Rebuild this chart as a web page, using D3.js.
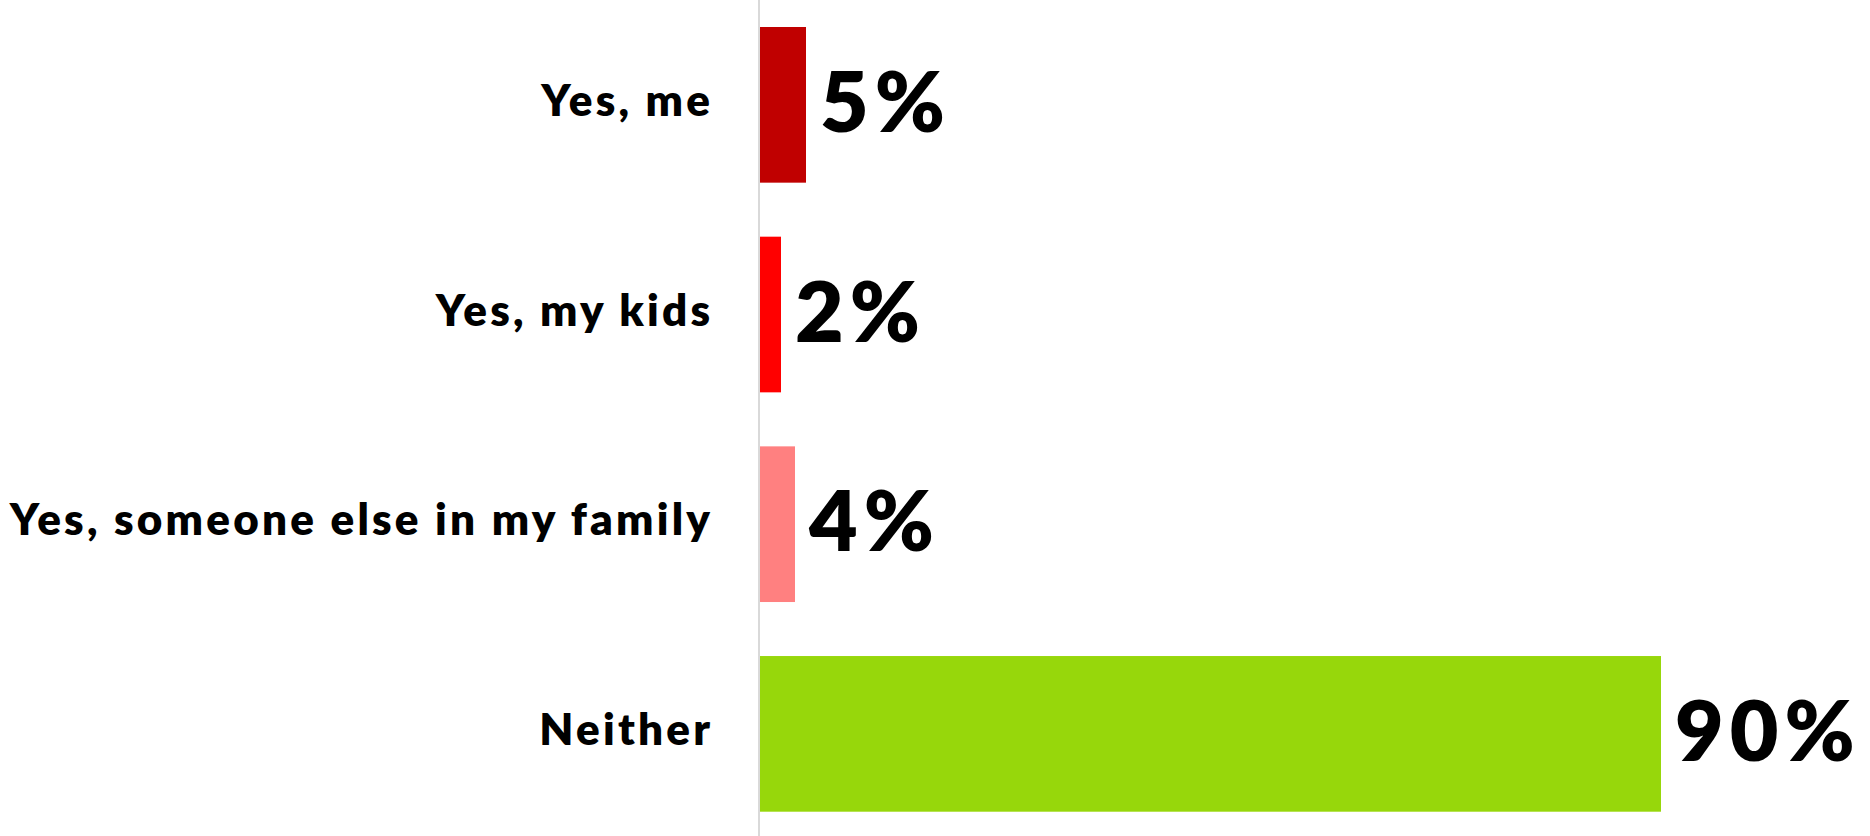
<!DOCTYPE html>
<html>
<head>
<meta charset="utf-8">
<script src="https://cdn.jsdelivr.net/npm/d3@7"></script>
<style>
  html, body { margin: 0; padding: 0; background: #ffffff; }
  svg { display: block; }
</style>
</head>
<body>
<svg id="chart" width="1870" height="836"></svg>
<script>
const categories = ["Yes, me", "Yes, my kids", "Yes, someone else in my family", "Neither"];
const values = [4.6, 2.1, 3.5, 90.1];
const valueLabels = ["5%", "2%", "4%", "90%"];
const barColors = ["#C00000", "#FF0000", "#FF8080", "#97D70B"];

const W = 1870, H = 836;
const svg = d3.select("#chart");
const fontFamily = "Lato, 'Open Sans', sans-serif";

const x = d3.scaleLinear().domain([0, 100]).range([760, 1760]);
const y = d3.scaleBand().domain(categories).range([27, 811.7]).paddingInner(0.2576).paddingOuter(0);

// axis line
svg.append("line")
  .attr("x1", x(0) - 1).attr("x2", x(0) - 1)
  .attr("y1", 0).attr("y2", H)
  .attr("stroke", "#d9d9d9").attr("stroke-width", 2);

// bars
svg.selectAll("rect.bar")
  .data(categories)
  .join("rect")
  .attr("class", "bar")
  .attr("x", x(0))
  .attr("y", d => y(d))
  .attr("width", (d, i) => x(values[i]) - x(0))
  .attr("height", y.bandwidth())
  .attr("fill", (d, i) => barColors[i]);

// category labels
const catSpacing = 3.2;
svg.selectAll("text.cat")
  .data(categories)
  .join("text")
  .attr("class", "cat")
  .attr("x", x(0) - 50 + catSpacing)
  .attr("y", d => y(d) + y.bandwidth() / 2 + 11)
  .attr("text-anchor", "end")
  .attr("font-family", fontFamily)
  .attr("font-weight", 800)
  .attr("font-size", 44)
  .attr("letter-spacing", catSpacing)
  .attr("fill", "#000")
  .text(d => d);

// value labels
svg.selectAll("text.val")
  .data(categories)
  .join("text")
  .attr("class", "val")
  .attr("x", (d, i) => x(values[i]) + 14)
  .attr("y", d => y(d) + y.bandwidth() / 2 + 27)
  .attr("font-family", fontFamily)
  .attr("font-weight", 800)
  .attr("font-size", 84)
  .attr("letter-spacing", 6)
  .attr("fill", "#000")
  .text((d, i) => valueLabels[i]);
</script>
</body>
</html>
